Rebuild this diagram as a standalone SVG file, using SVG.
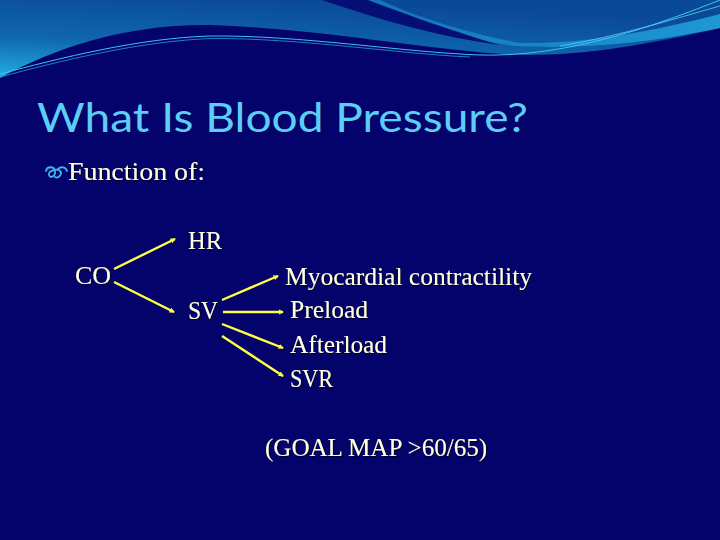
<svg xmlns="http://www.w3.org/2000/svg" width="720" height="540" viewBox="0 0 720 540">
<defs>
<linearGradient id="sky" x1="0" y1="1" x2="0.45" y2="0">
<stop offset="0" stop-color="#22aee0"/>
<stop offset="0.45" stop-color="#0f67ae"/>
<stop offset="1" stop-color="#0a4898"/>
</linearGradient>
<linearGradient id="band" x1="0" y1="0" x2="1" y2="0">
<stop offset="0" stop-color="#1272b6"/>
<stop offset="1" stop-color="#1e98d4"/>
</linearGradient>
<marker id="ah" viewBox="0 0 6 6" refX="5" refY="3" markerWidth="2.2" markerHeight="2.2" orient="auto" markerUnits="strokeWidth">
<path d="M0,0 L6,3 L0,6 Z" fill="#ffff44"/>
</marker>
<filter id="sh" x="-5%" y="-20%" width="110%" height="140%">
<feDropShadow dx="1" dy="1" stdDeviation="0.4" flood-color="#000020" flood-opacity="0.9"/>
</filter>
</defs>
<style>
.body{font-family:"Liberation Serif","DejaVu Serif",serif;font-size:25px;fill:#ffffe0;filter:url(#sh)}
.link{stroke:#ffff44;stroke-width:2.4;fill:none;marker-end:url(#ah)}
</style>
<rect width="720" height="540" fill="#03036b"/>
<g id="background">
<path d="M0,0 H720 V28 C650,44 590,55 525,55 C440,53 330,29 210,25 C125,24 55,48 0,78 Z" fill="url(#sky)"/>
<path d="M340,0 C410,24 460,38 515,46 C600,50 660,40 720,28 V14 C650,32 585,44 520,43 C460,32 410,14 380,0 Z" fill="url(#band)"/>
<path d="M322,0 C380,20 440,37 500,45 C455,32 405,14 368,0 Z" fill="#050e74"/>
<path d="M0,74 C60,58 140,38 210,36 C300,35 400,52 480,55 C560,57 640,32 720,0" fill="none" stroke="#3cc4ec" stroke-width="1"/>
<path d="M0,77 C60,61 140,41 212,38.5 C300,38 400,54 470,57" fill="none" stroke="#2a9fd8" stroke-width="0.8"/>
<path d="M560,46 C620,36 670,20 720,6" fill="none" stroke="#5ad0f0" stroke-width="0.8"/>
</g>
<g id="title">
<text x="37" y="132" font-family="Lato,'Open Sans',sans-serif" font-size="41" fill="#5ccdf4" textLength="491" lengthAdjust="spacingAndGlyphs">What Is Blood Pressure?</text>
</g>
<g id="bullet">
<path d="M46,171 C47,166 54,166 55,171 C56,176 50,179 49,175 C48,171 57,168 60,171 C63,174 58,179 55,177 M58,169 C61,166 66,167 67,171" fill="none" stroke="#3cb8e8" stroke-width="1.8" stroke-linecap="round"/>
<text class="body" x="68" y="180" textLength="137" lengthAdjust="spacingAndGlyphs">Function of:</text>
</g>
<g id="connectors">
<line class="link" x1="114" y1="269" x2="175" y2="239"/>
<line class="link" x1="114" y1="282" x2="174" y2="312"/>
<line class="link" x1="222" y1="300" x2="278" y2="276"/>
<line class="link" x1="223" y1="312" x2="283" y2="312"/>
<line class="link" x1="222" y1="324" x2="283" y2="348"/>
<line class="link" x1="222" y1="336" x2="283" y2="376"/>
</g>
<g id="node-co"><text class="body" x="75" y="284" textLength="36" lengthAdjust="spacingAndGlyphs">CO</text></g>
<g id="node-hr"><text class="body" x="188" y="249" textLength="34" lengthAdjust="spacingAndGlyphs">HR</text></g>
<g id="node-sv"><text class="body" x="188" y="319" textLength="30" lengthAdjust="spacingAndGlyphs">SV</text></g>
<g id="node-myo"><text class="body" x="285" y="285" textLength="247" lengthAdjust="spacingAndGlyphs">Myocardial contractility</text></g>
<g id="node-preload"><text class="body" x="290" y="318" textLength="78" lengthAdjust="spacingAndGlyphs">Preload</text></g>
<g id="node-afterload"><text class="body" x="290" y="353" textLength="97" lengthAdjust="spacingAndGlyphs">Afterload</text></g>
<g id="node-svr"><text class="body" x="290" y="387" textLength="43" lengthAdjust="spacingAndGlyphs">SVR</text></g>
<g id="goal"><text class="body" x="265" y="456" textLength="222" lengthAdjust="spacingAndGlyphs">(GOAL MAP &gt;60/65)</text></g>
</svg>
